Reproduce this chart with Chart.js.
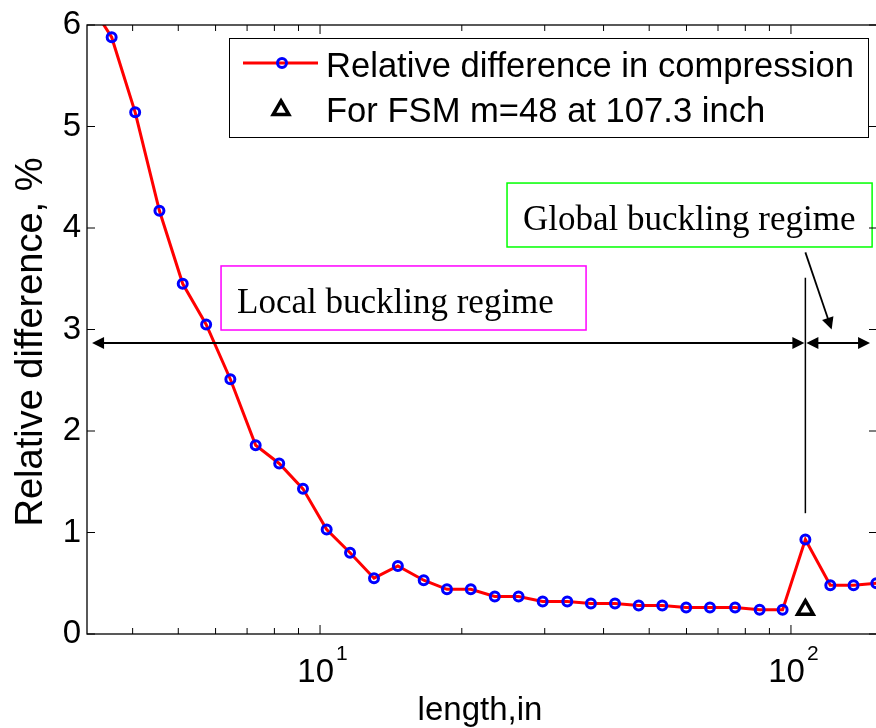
<!DOCTYPE html>
<html>
<head>
<meta charset="utf-8">
<script src="https://cdn.jsdelivr.net/npm/chart.js@4/dist/chart.umd.min.js"></script>
<style>
  html, body { margin: 0; padding: 0; background: #fff; overflow: hidden; }
  #wrap { width: 876px; height: 728px; overflow: hidden; }
</style>
</head>
<body>
<div id="wrap"><canvas id="c" width="880" height="728"></canvas></div>
<script>
// length, in (log axis) and relative difference, %
const lengths = [3.21, 3.61, 4.05, 4.56, 5.11, 5.73, 6.45, 7.30, 8.19, 9.20,
  10.33, 11.58, 13.02, 14.63, 16.6, 18.6, 20.9, 23.5, 26.4, 29.7,
  33.5, 37.6, 42.3, 47.5, 53.3, 59.9, 67.3, 76.1, 85.8, 96.0,
  107.3, 121.2, 135.8, 151.8];
const relDiff = [6.25, 5.88, 5.14, 4.17, 3.45, 3.05, 2.51, 1.86, 1.68, 1.43,
  1.03, 0.80, 0.55, 0.67, 0.53, 0.44, 0.44, 0.37, 0.37, 0.32,
  0.32, 0.30, 0.30, 0.28, 0.28, 0.26, 0.26, 0.26, 0.24, 0.24,
  0.93, 0.48, 0.48, 0.50];
const fsmLength = [107.3];
const fsmDiff = [0.24];

const xMajorTicks = [10, 100];
const xMinorTicks = [4, 5, 6, 7, 8, 9, 20, 30, 40, 50, 60, 70, 80, 90];
const yTicks = [0, 1, 2, 3, 4, 5, 6];

const legendLabels = ['Relative difference in compression', 'For FSM m=48 at 107.3 inch'];
const xTitle = 'length,in';
const yTitle = 'Relative difference, %';

// regime annotations, in data units
const splitX = 107.3;
const arrowY = 2.867;
const localBox = { x1: 6.163, x2: 36.72, y1: 3.626, y2: 2.995, text: 'Local buckling regime', color: '#ff00ff' };
const globalBox = { x1: 24.95, x2: 148.7, y1: 4.443, y2: 3.813, text: 'Global buckling regime', color: '#00ff00' };

const SANS = '"Liberation Sans", Arial, Helvetica, sans-serif';
const SERIF = '"Liberation Serif", "Times New Roman", serif';

function arrowHead(ctx, xt, yt, xf, yf) {
  const ang = Math.atan2(yt - yf, xt - xf);
  const L = 12, W = 6, c = Math.cos(ang), s = Math.sin(ang);
  ctx.beginPath();
  ctx.moveTo(xt, yt);
  ctx.lineTo(xt - L * c - W * s, yt - L * s + W * c);
  ctx.lineTo(xt - L * c + W * s, yt - L * s - W * c);
  ctx.closePath();
  ctx.fill();
}

function line(ctx, x1, y1, x2, y2) {
  ctx.beginPath();
  ctx.moveTo(x1, y1);
  ctx.lineTo(x2, y2);
  ctx.stroke();
}

const overlay = {
  id: 'overlay',
  afterDatasetsDraw(chart) {
    const { ctx, chartArea: a, scales: { x, y } } = chart;
    const px = v => x.getPixelForValue(v);
    const py = v => y.getPixelForValue(v);
    ctx.save();

    // regime arrows
    ctx.strokeStyle = '#000';
    ctx.fillStyle = '#000';
    ctx.lineWidth = 2;
    const sx = px(splitX), ay = py(arrowY);
    const l0 = px(3.28), r1 = px(147.2);
    line(ctx, l0 + 4, ay, sx - 5, ay);
    arrowHead(ctx, l0, ay, sx, ay);
    arrowHead(ctx, sx - 1, ay, l0, ay);
    line(ctx, sx + 5, ay, r1 - 4, ay);
    arrowHead(ctx, sx + 1, ay, r1, ay);
    arrowHead(ctx, r1, ay, sx, ay);

    ctx.lineWidth = 1.5;
    line(ctx, sx, py(3.51), sx, py(1.19));

    ctx.lineWidth = 1.8;
    const ax0 = sx, ay0 = py(3.76), ax1 = px(122.0), ay1 = py(3.0);
    line(ctx, ax0, ay0, ax1 - (ax1 - ax0) * 0.1, ay1 - (ay1 - ay0) * 0.1);
    arrowHead(ctx, ax1, ay1, ax0, ay0);

    // text boxes
    [localBox, globalBox].forEach(b => {
      const bx = px(b.x1), by = py(b.y1), bw = px(b.x2) - bx, bh = py(b.y2) - by;
      ctx.fillStyle = '#fff';
      ctx.fillRect(bx, by, bw, bh);
      ctx.strokeStyle = b.color;
      ctx.lineWidth = 1.5;
      ctx.strokeRect(bx, by, bw, bh);
      ctx.fillStyle = '#000';
      ctx.font = '35px ' + SERIF;
      ctx.textAlign = 'left';
      ctx.textBaseline = 'alphabetic';
      ctx.fillText(b.text, bx + 16, by + bh - 17);
    });

    // legend
    ctx.fillStyle = '#fff';
    ctx.fillRect(229, 38, 639, 99);
    ctx.strokeStyle = '#000';
    ctx.lineWidth = 1;
    ctx.strokeRect(229.5, 38.5, 639, 99);
    ctx.strokeStyle = '#ff0000';
    ctx.lineWidth = 3;
    line(ctx, 243, 63, 318, 63);
    ctx.strokeStyle = '#0000ff';
    ctx.lineWidth = 3;
    ctx.beginPath();
    ctx.arc(282, 63, 4.5, 0, Math.PI * 2);
    ctx.stroke();
    ctx.strokeStyle = '#000';
    ctx.lineWidth = 3.5;
    ctx.beginPath();
    ctx.moveTo(281, 110 - 9);
    ctx.lineTo(281 + 7.8, 110 + 4.5);
    ctx.lineTo(281 - 7.8, 110 + 4.5);
    ctx.closePath();
    ctx.stroke();
    ctx.fillStyle = '#000';
    ctx.font = '34.6px ' + SANS;
    ctx.textAlign = 'left';
    ctx.textBaseline = 'alphabetic';
    ctx.fillText(legendLabels[0], 326, 77);
    ctx.fillText(legendLabels[1], 326, 122);

    // frame and inward ticks
    ctx.strokeStyle = '#000';
    ctx.lineWidth = 1.3;
    ctx.strokeRect(a.left, a.top, a.right - a.left, a.bottom - a.top);
    ctx.lineWidth = 1;
    yTicks.forEach(v => {
      const t = py(v);
      line(ctx, a.left, t, a.left + 8, t);
      line(ctx, a.right, t, a.right - 8, t);
    });
    xMajorTicks.concat(xMinorTicks).forEach(v => {
      const t = px(v), len = xMajorTicks.includes(v) ? 9 : 6;
      line(ctx, t, a.bottom, t, a.bottom - len);
      line(ctx, t, a.top, t, a.top + len);
    });

    // x tick labels 10^n
    ctx.fillStyle = '#000';
    xMajorTicks.forEach(v => {
      const t = px(v);
      ctx.font = '33px ' + SANS;
      ctx.textAlign = 'right';
      ctx.fillText('10', t + 14, 682);
      ctx.font = '21px ' + SANS;
      ctx.textAlign = 'left';
      ctx.fillText(String(Math.round(Math.log10(v))), t + 16, 660);
    });

    // axis titles
    ctx.font = '33px ' + SANS;
    ctx.textAlign = 'center';
    ctx.fillText(xTitle, (a.left + a.right) / 2 - 2, 720);
    ctx.translate(42, 342);
    ctx.rotate(-Math.PI / 2);
    ctx.font = '38px ' + SANS;
    ctx.fillText(yTitle, 0, 0);

    ctx.restore();
  }
};

new Chart(document.getElementById('c'), {
  type: 'line',
  data: {
    datasets: [
      {
        label: legendLabels[0],
        data: lengths.map((v, i) => ({ x: v, y: relDiff[i] })),
        borderColor: '#ff0000',
        borderWidth: 3,
        tension: 0,
        pointStyle: 'circle',
        pointRadius: 4.5,
        pointBorderWidth: 3,
        pointBorderColor: '#0000ff',
        pointBackgroundColor: 'rgba(0,0,0,0)',
        fill: false
      },
      {
        label: legendLabels[1],
        data: fsmLength.map((v, i) => ({ x: v, y: fsmDiff[i] })),
        showLine: false,
        pointStyle: 'triangle',
        pointRadius: 9,
        pointBorderWidth: 3.5,
        pointBorderColor: '#000',
        pointBackgroundColor: 'rgba(0,0,0,0)'
      }
    ]
  },
  options: {
    responsive: false,
    animation: false,
    devicePixelRatio: 1,
    layout: { autoPadding: false, padding: { left: 0, top: 25, right: 3, bottom: 0 } },
    plugins: { legend: { display: false }, tooltip: { enabled: false } },
    scales: {
      x: {
        type: 'logarithmic',
        min: 3.2,
        max: 152.3,
        grid: { display: false, drawTicks: false },
        border: { display: false },
        ticks: { display: false },
        afterFit(scale) { scale.height = 94; }
      },
      y: {
        min: 0,
        max: 6,
        grid: { display: false, drawTicks: false },
        border: { display: false },
        ticks: {
          stepSize: 1,
          padding: 6,
          color: '#000',
          font: { family: SANS, size: 33, lineHeight: 1 }
        },
        afterFit(scale) { scale.width = 87; }
      }
    }
  },
  plugins: [overlay]
});
</script>
</body>
</html>
